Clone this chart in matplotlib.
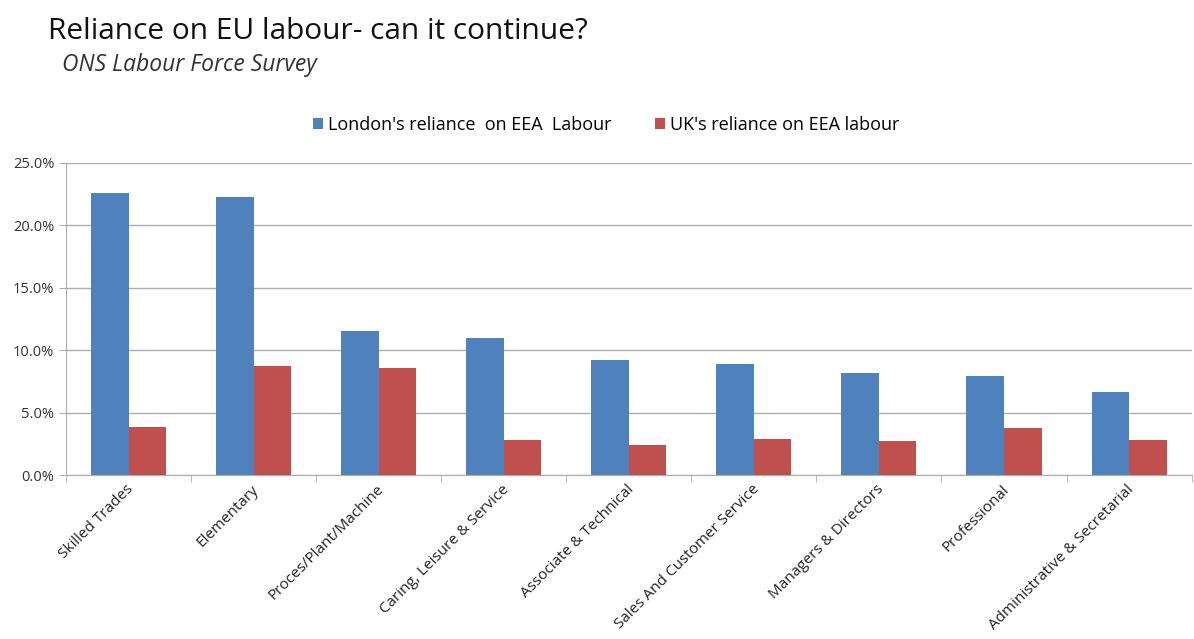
import matplotlib
matplotlib.use("Agg")
import matplotlib.pyplot as plt
import numpy as np
from matplotlib.ticker import PercentFormatter, FixedLocator

# Дані з графіка (у відсотках)
categories = ["Skilled Trades", "Elementary", "Proces/Plant/Machine",
              "Caring, Leisure & Service", "Associate & Technical",
              "Sales And Customer Service", "Managers & Directors",
              "Professional", "Administrative & Secretarial"]
london = [22.6, 22.3, 11.5, 11.0, 9.2, 8.9, 8.2, 7.9, 6.65]
uk = [3.85, 8.7, 8.6, 2.8, 2.4, 2.9, 2.7, 3.75, 2.8]
yticks = [0, 5, 10, 15, 20, 25]

plt.rcParams['font.family'] = ['Open Sans', 'DejaVu Sans']

fig = plt.figure(figsize=(11.94, 6.39), dpi=100)
ax = fig.add_axes([0.0553, 0.2566, 0.9427, 0.4884])

x = np.arange(len(categories))
w = 0.3
ax.bar(x - w / 2, london, w, color="#4F81BD", label="London's reliance  on EEA  Labour", zorder=3)
ax.bar(x + w / 2, uk, w, color="#C0504D", label="UK's reliance on EEA labour", zorder=3)

ax.set_xlim(-0.5, len(categories) - 0.5)
ax.set_ylim(0, 25)
ax.set_yticks(yticks)
ax.yaxis.set_major_formatter(PercentFormatter(decimals=1))
ax.grid(axis='y', color="#adadad", linewidth=1, zorder=0)

# Підписи категорій по центру, тики — між групами
ax.set_xticks(x - 0.02)
ax.set_xticklabels(categories, rotation=45, ha='right', rotation_mode='anchor',
                   fontsize=11, color="#222222")
ax.tick_params(axis='x', length=0, pad=5)
ax.xaxis.set_minor_locator(FixedLocator(np.arange(-0.5, len(categories), 1)))
ax.tick_params(axis='x', which='minor', length=5, color="#adadad")
ax.tick_params(axis='y', length=5, color="#adadad", labelsize=10.5, labelcolor="#333333")

for s in ['top', 'right']:
    ax.spines[s].set_visible(False)
ax.spines['left'].set_color("#adadad")
ax.spines['bottom'].set_color("#adadad")

ax.legend(loc='lower center', bbox_to_anchor=(0.48, 1.04), ncol=2, frameon=False,
          fontsize=13, handlelength=0.55, handleheight=0.55, columnspacing=2.4, handletextpad=0.3)

fig.text(0.040, 0.950, "Reliance on EU labour- can it continue?", fontsize=21.5, va='center', color="#111111")
fig.text(0.052, 0.898, "ONS Labour Force Survey", fontsize=16.5, style='italic', va='center', color="#333333")

fig.savefig("out.png", dpi=100)
